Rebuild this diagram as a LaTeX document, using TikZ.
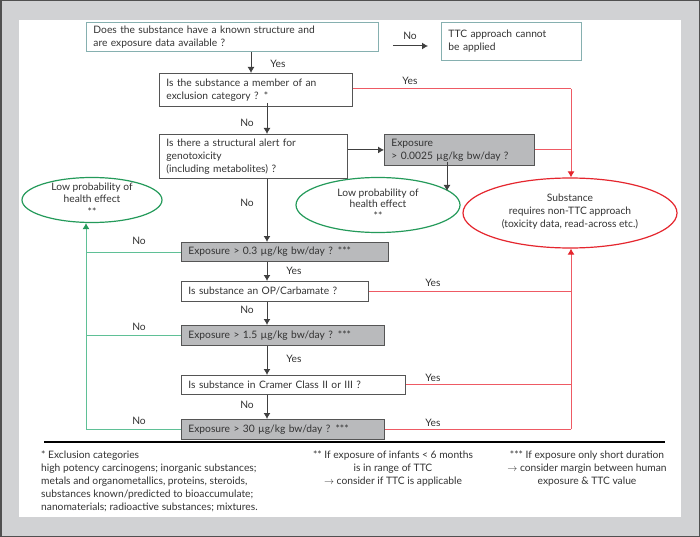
\documentclass[tikz,border=0pt]{standalone}
\usepackage{fontspec}
\setmainfont{Lato}
\usetikzlibrary{shapes.geometric,arrows.meta}
\definecolor{cBg}{HTML}{D1D2D4}
\definecolor{cFrame}{HTML}{505050}
\definecolor{cTeal}{HTML}{86B0B0}
\definecolor{cBoxLine}{HTML}{555555}
\definecolor{cBoxFill}{HTML}{B9BABC}
\definecolor{cRedL}{HTML}{EE5A64}
\definecolor{cRedD}{HTML}{E5262E}
\definecolor{cGreenL}{HTML}{5FC096}
\definecolor{cGreenD}{HTML}{249A5A}
\definecolor{cTxt}{HTML}{333333}
\tikzset{
  qbox/.style={draw=cBoxLine, line width=0.9pt, fill=white, anchor=north west, inner xsep=7pt, inner ysep=0pt, align=left, text width=#1-14pt},
  tbox/.style={qbox=#1, draw=cTeal},
  ebox/.style={qbox=#1, fill=cBoxFill, draw=cBoxLine},
  flow/.style={draw=black!75, line width=1pt, -{Latex[length=6pt,width=7pt]}},
  redline/.style={draw=cRedL, line width=1pt},
  greenline/.style={draw=cGreenL, line width=0.9pt},
  redtip/.style={-{Latex[length=6pt,width=7pt,color=cRedD]}},
  greentip/.style={-{Latex[length=6pt,width=7pt,color=cGreenD]}},
  lab/.style={inner sep=0pt},
  ellG/.style={ellipse, draw=cGreenD, line width=1.2pt, inner sep=0pt},
  ellR/.style={ellipse, draw=cRedD, line width=1.2pt, inner sep=0pt},
}
\begin{document}
\begin{tikzpicture}[x=1pt,y=-1pt, font=\fontsize{10.25}{13}\selectfont, text=cTxt]
\useasboundingbox (0,0) rectangle (700,537);
\fill[cBg] (0,0) rectangle (700,537);
\draw[cFrame, line width=1.5pt] (0.75,0.75) rectangle (699.25,536.25);
\fill[white] (19,20) rectangle (681,517);

% boxes
\node[tbox=292pt, minimum height=29pt] (q1) at (86,22) {Does the substance have a known structure and\\are exposure data available ?};
\node[tbox=140pt, minimum height=38pt] (ttc) at (441,22) {TTC approach cannot\\be applied};
\node[qbox=193pt, minimum height=33pt] (q2) at (159,73) {Is the substance a member of an\\exclusion category ? *};
\node[qbox=188pt, minimum height=44pt] (q3) at (159,134) {Is there a structural alert for\\genotoxicity\\(including metabolites) ?};
\node[ebox=150pt, minimum height=31pt] (e1) at (384,134) {Exposure\\> 0.0025 µg/kg bw/day ?};
\node[ebox=207pt, minimum height=19pt] (e2) at (181,242) {Exposure > 0.3 µg/kg bw/day ? ***};
\node[qbox=187pt, minimum height=20pt] (q4) at (181,281) {Is substance an OP/Carbamate ?};
\node[ebox=203pt, minimum height=20pt] (e3) at (181,325) {Exposure > 1.5 µg/kg bw/day ? ***};
\node[qbox=224pt, minimum height=19pt] (q5) at (181,375) {Is substance in Cramer Class II or III ?};
\node[ebox=203pt, minimum height=20pt] (e4) at (181,419) {Exposure > 30 µg/kg bw/day ? ***};

% ellipses
\node[ellG, minimum width=140pt, minimum height=45pt] (lowL) at (92,200) {};
\node[align=center, font=\fontsize{10.25}{12.5}\selectfont] (lowLt) at (92,199) {Low probability of\\health effect\\**};
\node[ellG, minimum width=164pt, minimum height=55pt] (lowR) at (378,205) {};
\node[align=center, font=\fontsize{10.25}{11.5}\selectfont] (lowRt) at (378,204) {Low probability of\\health effect\\**};
\node[ellR, minimum width=214pt, minimum height=70pt] (sub) at (570,213) {};
\node[align=center, font=\fontsize{10.25}{13}\selectfont] (subt) at (570,212) {Substance\\requires non-TTC approach\\(toxicity data, read-across etc.)};

% coordinates for vertical axes
\coordinate (xa) at (251,0);
\coordinate (xm) at (267,0);
\coordinate (xr) at (571,0);
\coordinate (xg) at (86,0);
\coordinate (xe) at (447,0);
\coordinate (ein) at (447,191);

% black flow arrows
\draw[flow] (q1.east |- 0,46) ++(14,0) coordinate (nA) -- ([xshift=-13pt]ttc.west |- nA);
\draw[flow] (xa |- q1.south) -- (xa |- q2.north);
\draw[flow] ([yshift=4pt]xm |- q2.south) -- (xm |- q3.north);
\draw[flow] (q3.east |- e1.west) -- (e1.west);
\draw[flow] ([yshift=4pt]xe |- e1.south) -- (ein);
\draw[flow] (xm |- q3.south) -- (xm |- e2.north);
\draw[flow] (xm |- e2.south) -- (xm |- q4.north);
\draw[flow] (xm |- q4.south) -- (xm |- e3.north);
\draw[flow] (xm |- e3.south) -- (xm |- q5.north);
\draw[flow] (xm |- q5.south) -- (xm |- e4.north);

% red lines
\draw[redline] (q2.east |- 0,89) -- (xr |- 0,89);
\draw[redline, redtip] (xr |- 0,89) -- (xr |- sub.north);
\draw[redline] (e1.east) -- (xr |- e1.east);
\draw[redline] (q4.east) -- (xr |- q4.east);
\draw[redline] (q5.east) -- (xr |- q5.east);
\draw[redline] (e4.east) -- (xr |- e4.east);
\draw[redline, redtip] (xr |- e4.east) -- (xr |- sub.south);

% green lines
\draw[greenline] (e2.west) -- (xg |- e2.west);
\draw[greenline] (e3.west) -- (xg |- e3.west);
\draw[greenline] (e4.west) -- (xg |- e4.west);
\draw[greenline, greentip] (xg |- e4.west) -- (xg |- lowL.south);

% labels
\node[lab] (l1) at (410,36) {No};
\node[lab] (l2) at (278,64) {Yes};
\node[lab] (l3) at (410,81) {Yes};
\node[lab] (l4) at (247,123) {No};
\node[lab] (l5) at (247,203) {No};
\node[lab] (l6) at (139,241) {No};
\node[lab] (l7) at (294,271) {Yes};
\node[lab] (l8) at (433,283) {Yes};
\node[lab] (l9) at (247,310) {No};
\node[lab] (l10) at (139,327) {No};
\node[lab] (l11) at (294,359) {Yes};
\node[lab] (l12) at (433,378) {Yes};
\node[lab] (l13) at (247,405) {No};
\node[lab] (l14) at (139,421) {No};
\node[lab] (l15) at (433,423) {Yes};

% separator
\draw[black, line width=1.1pt] (44,442) -- (665,442);

% footnotes
\node[anchor=north west, align=left, inner sep=0pt] (f1) at (41,451) {* Exclusion categories\\high potency carcinogens; inorganic substances;\\metals and organometallics, proteins, steroids,\\substances known/predicted to bioaccumulate;\\nanomaterials; radioactive substances; mixtures.};
\node[anchor=north, align=center, inner sep=0pt] (f2) at (393,451) {** If exposure of infants < 6 months\\is in range of TTC\\$\rightarrow$ consider if TTC is applicable};
\node[anchor=north, align=center, inner sep=0pt] (f3) at (587,451) {*** If exposure only short duration\\$\rightarrow$ consider margin between human\\exposure \& TTC value};
\end{tikzpicture}
\end{document}
